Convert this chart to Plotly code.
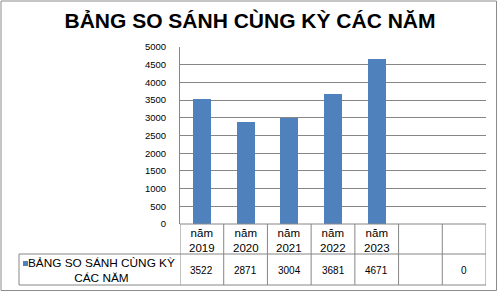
import plotly.graph_objects as go

# Chart data
title_text = "BẢNG SO SÁNH CÙNG KỲ CÁC NĂM"
series_name = "BẢNG SO SÁNH CÙNG KỲ CÁC NĂM"
years = ["2019", "2020", "2021", "2022", "2023", "", ""]
values = [3522, 2871, 3004, 3681, 4671, None, 0]
y_ticks = [0, 500, 1000, 1500, 2000, 2500, 3000, 3500, 4000, 4500, 5000]

W, H = 500, 292
PL, PR, PT, PB = 180, 14, 47, 68
plot_w = W - PL - PR
plot_h = H - PT - PB
BAR = "#4F81BD"
LINE = "#868686"
FONT = "Liberation Sans, Arial, sans-serif"


def px_x(px):
    return (px - PL) / plot_w


def px_y(py):
    return (H - PB - py) / plot_h


n = len(years)
xs = list(range(n))

fig = go.Figure()
fig.add_trace(go.Bar(
    x=xs, y=values, width=0.41, marker=dict(color=BAR, line=dict(width=0)),
    name=series_name, showlegend=False,
))

shapes = []
annotations = []

# outer chart border
shapes.append(dict(type="rect", xref="paper", yref="paper",
                   x0=px_x(1), x1=px_x(496.5), y0=px_y(290.5), y1=px_y(1),
                   line=dict(color="#8c8c8c", width=1)))

# data table grid
tbl_top, tbl_mid, tbl_bot, legend_left = 224, 254, 285, 19
for k in range(n + 1):
    shapes.append(dict(type="line", xref="x", yref="paper",
                       x0=k - 0.5, x1=k - 0.5, y0=px_y(tbl_top), y1=px_y(tbl_bot),
                       line=dict(color=LINE, width=1)))
for py in (tbl_mid, tbl_bot):
    shapes.append(dict(type="line", xref="paper", yref="paper",
                       x0=px_x(legend_left), x1=1, y0=px_y(py), y1=px_y(py),
                       line=dict(color=LINE, width=1)))
shapes.append(dict(type="line", xref="paper", yref="paper",
                   x0=0, x1=1, y0=px_y(tbl_top), y1=px_y(tbl_top),
                   line=dict(color=LINE, width=1)))
shapes.append(dict(type="line", xref="paper", yref="paper",
                   x0=px_x(legend_left), x1=px_x(legend_left),
                   y0=px_y(tbl_mid), y1=px_y(tbl_bot),
                   line=dict(color=LINE, width=1)))

# legend key
shapes.append(dict(type="rect", xref="paper", yref="paper",
                   x0=px_x(23), x1=px_x(28), y0=px_y(266), y1=px_y(261),
                   fillcolor=BAR, line=dict(width=0)))
annotations.append(dict(xref="paper", yref="paper", x=px_x(101.5), y=px_y(270),
                        text="BẢNG SO SÁNH CÙNG KỲ<br>CÁC NĂM", showarrow=False,
                        xanchor="center", yanchor="middle", align="center",
                        font=dict(family=FONT, size=11.8, color="#000")))

# header and value cells
for i, (yr, v) in enumerate(zip(years, values)):
    if yr:
        annotations.append(dict(xref="x", yref="paper", x=i, y=px_y(240.5),
                                text=f"năm<br>{yr}", showarrow=False,
                                xanchor="center", yanchor="middle",
                                font=dict(family=FONT, size=11.5, color="#000")))
    if v is not None:
        annotations.append(dict(xref="x", yref="paper", x=i, y=px_y(270.5),
                                text=str(v), showarrow=False,
                                xanchor="center", yanchor="middle",
                                font=dict(family=FONT, size=10, color="#000")))

fig.update_layout(
    width=W, height=H,
    margin=dict(l=PL, r=PR, t=PT, b=PB, pad=0),
    paper_bgcolor="white", plot_bgcolor="white",
    title=dict(text=f"<b>{title_text}</b>", x=0.5, xanchor="center",
               y=1 - 21 / H, yanchor="middle",
               font=dict(family=FONT, size=21, color="#000")),
    xaxis=dict(range=[-0.5, n - 0.5], showticklabels=False, showgrid=False,
               zeroline=False, showline=False, fixedrange=True),
    yaxis=dict(range=[0, 5000], tickvals=y_ticks, showgrid=True,
               gridcolor=LINE, gridwidth=1, zeroline=False,
               showline=True, linecolor=LINE, linewidth=1,
               ticks="", ticklabelstandoff=11,
               tickfont=dict(family=FONT, size=9.5, color="#000")),
    shapes=shapes, annotations=annotations,
    bargap=0,
)

fig.write_html("out.html")
